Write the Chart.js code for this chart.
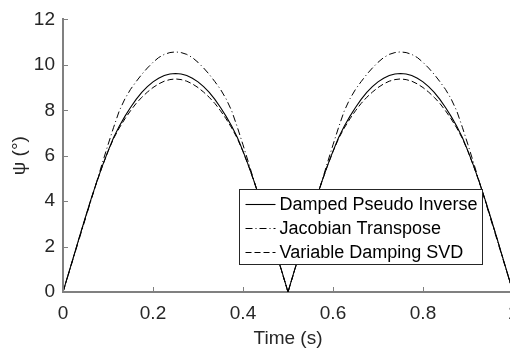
<!DOCTYPE html>
<html>
<head>
<meta charset="utf-8">
<script src="https://cdn.jsdelivr.net/npm/chart.js@4.4.1/dist/chart.umd.min.js"></script>
<style>
html,body{margin:0;padding:0;background:#fff;overflow:hidden;width:510px;height:354px;}
canvas{display:block;}
</style>
</head>
<body>
<canvas id="c" width="530" height="354"></canvas>
<script>
// ---- data ----
const time = [0, 0.0125, 0.025, 0.0375, 0.05, 0.0625, 0.075, 0.0875, 0.1, 0.1125, 0.125, 0.1375, 0.15, 0.1625, 0.175, 0.1875, 0.2, 0.2125, 0.225, 0.2375, 0.25, 0.2625, 0.275, 0.2875, 0.3, 0.3125, 0.325, 0.3375, 0.35, 0.3625, 0.375, 0.3875, 0.4, 0.4125, 0.425, 0.4375, 0.45, 0.4625, 0.475, 0.4875, 0.5, 0.5125, 0.525, 0.5375, 0.55, 0.5625, 0.575, 0.5875, 0.6, 0.6125, 0.625, 0.6375, 0.65, 0.6625, 0.675, 0.6875, 0.7, 0.7125, 0.725, 0.7375, 0.75, 0.7625, 0.775, 0.7875, 0.8, 0.8125, 0.825, 0.8375, 0.85, 0.8625, 0.875, 0.8875, 0.9, 0.9125, 0.925, 0.9375, 0.95, 0.9625, 0.975, 0.9875, 1];

const dampedPseudoInverse = [0, 0.83, 1.66, 2.49, 3.30, 4.10, 4.85, 5.55, 6.20, 6.80, 7.30, 7.73, 8.12, 8.48, 8.79, 9.04, 9.25, 9.41, 9.53, 9.60, 9.62, 9.60, 9.53, 9.41, 9.25, 9.04, 8.79, 8.48, 8.12, 7.73, 7.30, 6.80, 6.20, 5.55, 4.85, 4.10, 3.30, 2.49, 1.66, 0.83, 0,
  0.83, 1.66, 2.49, 3.30, 4.10, 4.85, 5.55, 6.20, 6.80, 7.30, 7.73, 8.12, 8.48, 8.79, 9.04, 9.25, 9.41, 9.53, 9.60, 9.62, 9.60, 9.53, 9.41, 9.25, 9.04, 8.79, 8.48, 8.12, 7.73, 7.30, 6.80, 6.20, 5.55, 4.85, 4.10, 3.30, 2.49, 1.66, 0.83, 0];

const jacobianTranspose = [0, 0.81, 1.62, 2.43, 3.24, 4.05, 4.86, 5.68, 6.48, 7.25, 7.97, 8.50, 8.92, 9.26, 9.58, 9.86, 10.11, 10.32, 10.46, 10.54, 10.57, 10.54, 10.46, 10.32, 10.11, 9.86, 9.58, 9.26, 8.92, 8.50, 7.97, 7.25, 6.48, 5.68, 4.86, 4.05, 3.24, 2.43, 1.62, 0.81, 0,
  0.81, 1.62, 2.43, 3.24, 4.05, 4.86, 5.68, 6.48, 7.25, 7.97, 8.50, 8.92, 9.26, 9.58, 9.86, 10.11, 10.32, 10.46, 10.54, 10.57, 10.54, 10.46, 10.32, 10.11, 9.86, 9.58, 9.26, 8.92, 8.50, 7.97, 7.25, 6.48, 5.68, 4.86, 4.05, 3.24, 2.43, 1.62, 0.81, 0];

const variableDampingSVD = [0, 0.82, 1.65, 2.48, 3.29, 4.09, 4.84, 5.54, 6.18, 6.76, 7.22, 7.62, 7.98, 8.30, 8.57, 8.80, 9.00, 9.16, 9.28, 9.35, 9.38, 9.35, 9.28, 9.16, 9.00, 8.80, 8.57, 8.30, 7.98, 7.62, 7.22, 6.76, 6.18, 5.54, 4.84, 4.09, 3.29, 2.48, 1.65, 0.82, 0,
  0.82, 1.65, 2.48, 3.29, 4.09, 4.84, 5.54, 6.18, 6.76, 7.22, 7.62, 7.98, 8.30, 8.57, 8.80, 9.00, 9.16, 9.28, 9.35, 9.38, 9.35, 9.28, 9.16, 9.00, 8.80, 8.57, 8.30, 7.98, 7.62, 7.22, 6.76, 6.18, 5.54, 4.84, 4.09, 3.29, 2.48, 1.65, 0.82, 0];

const seriesNames = ['Damped Pseudo Inverse', 'Jacobian Transpose', 'Variable Damping SVD'];
const xTickValues = [0, 0.2, 0.4, 0.6, 0.8, 1];
const xTickLabels = ['0', '0.2', '0.4', '0.6', '0.8', '1'];
const yTickValues = [0, 2, 4, 6, 8, 10, 12];
const yTickLabels = ['0', '2', '4', '6', '8', '10', '12'];
const xTitle = 'Time (s)';
const yTitle = 'ψ (°)';

// ---- chart ----
const FONT = '"Liberation Sans", Arial, Helvetica, sans-serif';
const AXIS_COLOR = '#808080';
const TEXT_COLOR = '#262626';

function pts(ys) { return time.map((t, i) => ({ x: t, y: ys[i] })); }

const inwardTicks = {
  id: 'inwardTicks',
  afterDraw(chart) {
    const ctx = chart.ctx, a = chart.chartArea;
    const xs = chart.scales.x, ys = chart.scales.y;
    ctx.save();
    ctx.strokeStyle = AXIS_COLOR;
    ctx.lineWidth = 1;
    xs.ticks.forEach((t, i) => {
      const px = Math.round(xs.getPixelForTick(i)) + 0.5;
      ctx.beginPath(); ctx.moveTo(px, a.bottom); ctx.lineTo(px, a.bottom - 5); ctx.stroke();
    });
    ys.ticks.forEach((t, i) => {
      const py = Math.round(ys.getPixelForTick(i)) + 0.5;
      ctx.beginPath(); ctx.moveTo(a.left, py); ctx.lineTo(a.left + 5, py); ctx.stroke();
    });
    ctx.restore();
  }
};

const boxLegend = {
  id: 'boxLegend',
  afterDraw(chart) {
    const ctx = chart.ctx, a = chart.chartArea;
    ctx.save();
    ctx.font = '18px ' + FONT;
    const ds = chart.data.datasets;
    let tw = 0;
    ds.forEach(d => { tw = Math.max(tw, ctx.measureText(d.label).width); });
    const rowH = 24, padL = 6, lineLen = 30, gap = 4, padR = 5;
    const w = padL + lineLen + gap + tw + padR;
    const h = rowH * ds.length + 3;
    const right = a.right - 31, bottom = a.bottom - 28;
    const left = Math.round(right - w) + 0.5, top = Math.round(bottom - h) + 0.5;
    ctx.fillStyle = '#ffffff';
    ctx.fillRect(left, top, w, h);
    ctx.strokeStyle = '#262626';
    ctx.lineWidth = 1;
    ctx.strokeRect(left, top, Math.round(w), Math.round(h));
    ds.forEach((d, i) => {
      const cy = Math.round(top + 14 + i * rowH) + 0.5;
      ctx.beginPath();
      ctx.setLineDash(d.borderDash || []);
      ctx.strokeStyle = d.borderColor;
      ctx.lineWidth = d.borderWidth;
      ctx.moveTo(left + padL, cy); ctx.lineTo(left + padL + lineLen, cy);
      ctx.stroke();
      ctx.setLineDash([]);
      ctx.fillStyle = '#000000';
      ctx.textBaseline = 'middle';
      ctx.textAlign = 'left';
      ctx.fillText(d.label, left + padL + lineLen + gap, cy + 1);
    });
    ctx.restore();
  }
};

new Chart(document.getElementById('c'), {
  type: 'line',
  data: {
    datasets: [
      { label: seriesNames[0], data: pts(dampedPseudoInverse), borderColor: '#000000', borderWidth: 1.1, borderDash: [], pointRadius: 0, tension: 0, fill: false },
      { label: seriesNames[1], data: pts(jacobianTranspose), borderColor: '#000000', borderWidth: 1, borderDash: [7, 3, 1, 3], pointRadius: 0, tension: 0, fill: false },
      { label: seriesNames[2], data: pts(variableDampingSVD), borderColor: '#000000', borderWidth: 1, borderDash: [6, 3], pointRadius: 0, tension: 0, fill: false }
    ]
  },
  options: {
    responsive: false,
    animation: false,
    devicePixelRatio: 1,
    layout: { padding: { left: 0, right: 17, top: 15, bottom: 0 } },
    plugins: { legend: { display: false }, tooltip: { enabled: false } },
    scales: {
      x: {
        type: 'linear', min: 0, max: 1,
        afterBuildTicks(s) { s.ticks = xTickValues.map(v => ({ value: v })); },
        afterFit(s) { s.height = 62; },
        grid: { display: true, drawOnChartArea: false, drawTicks: false },
        border: { display: true, color: AXIS_COLOR, width: 2 },
        ticks: { padding: 10, color: TEXT_COLOR, font: { family: FONT, size: 19 }, maxRotation: 0,
          callback: (v) => xTickLabels[xTickValues.indexOf(v)] },
        title: { display: true, text: xTitle, color: TEXT_COLOR, font: { family: FONT, size: 19 }, padding: { top: 4 } }
      },
      y: {
        type: 'linear', min: 0, max: 12,
        afterBuildTicks(s) { s.ticks = yTickValues.map(v => ({ value: v })); },
        afterFit(s) { s.width = 63; },
        grid: { display: true, drawOnChartArea: false, drawTicks: false },
        border: { display: true, color: AXIS_COLOR, width: 2 },
        ticks: { padding: 8, color: TEXT_COLOR, font: { family: FONT, size: 19 },
          callback: (v) => yTickLabels[yTickValues.indexOf(v)] },
        title: { display: true, text: yTitle, color: TEXT_COLOR, font: { family: FONT, size: 19 }, padding: { top: 8, bottom: 0 } }
      }
    }
  },
  plugins: [boxLegend, inwardTicks]
});
</script>
</body>
</html>
